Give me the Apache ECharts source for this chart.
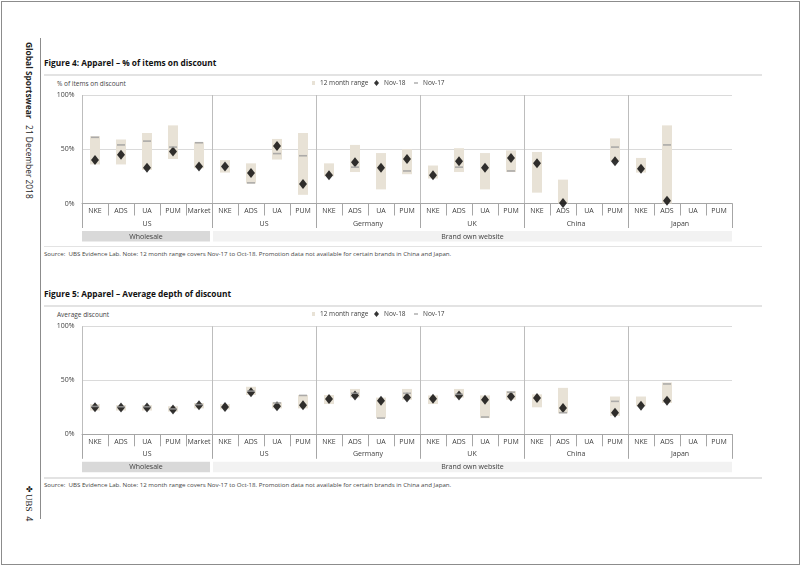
<!DOCTYPE html>
<html><head><meta charset="utf-8">
<script src="https://cdn.jsdelivr.net/npm/echarts@6/dist/echarts.min.js"></script>
<style>
html,body{margin:0;padding:0;background:#fff;}
body{width:802px;height:567px;overflow:hidden;position:relative;font-family:'Open Sans',sans-serif;color:#333;}
.abs{position:absolute;white-space:nowrap;}
#border{left:1px;top:1px;width:799px;height:564px;border:1px solid #8c8c8c;box-sizing:border-box;}
#vline{left:39.5px;top:38px;width:1.5px;height:481px;background:#8c8c8c;}
#side{left:24px;top:42px;writing-mode:vertical-rl;font-size:8.4px;color:#222;line-height:10px;}
#ubs{left:24px;top:485px;writing-mode:vertical-rl;font-size:9px;color:#222;line-height:10px;}
.title{left:44px;font-size:8.3px;font-weight:700;color:#111;line-height:10px;}
.hr{left:44px;width:718px;height:2px;background:#e3e3e3;}
.yname{left:57px;font-size:6.5px;color:#444;line-height:8px;}
.src{left:44px;font-size:6.15px;color:#444;line-height:8px;}
#chart{position:absolute;left:0;top:0;width:802px;height:567px;}
</style></head>
<body>
<div id="border" class="abs"></div>
<div id="vline" class="abs"></div>
<div id="side" class="abs"><b>Global Sportswear</b>&nbsp;&nbsp;&nbsp;21 December 2018</div>
<div id="ubs" class="abs"><span style="font-size:8px">✤</span><span style="font-family:'Liberation Serif',serif;">UBS</span>&nbsp;&nbsp;4</div>

<div class="abs title" style="top:58px">Figure 4: Apparel – % of items on discount</div>
<div class="abs hr" style="top:74px"></div>
<div class="abs yname" style="top:80.3px">% of items on discount</div>
<div class="abs hr" style="top:245.5px;height:1.5px"></div>
<div class="abs src" style="top:250px">Source:&nbsp; UBS Evidence Lab. Note: 12 month range covers Nov-17 to Oct-18. Promotion data not available for certain brands in China and Japan.</div>

<div class="abs title" style="top:289px">Figure 5: Apparel – Average depth of discount</div>
<div class="abs hr" style="top:305px"></div>
<div class="abs yname" style="top:310.5px">Average discount</div>
<div class="abs hr" style="top:477px;height:1.5px"></div>
<div class="abs src" style="top:480.5px">Source:&nbsp; UBS Evidence Lab. Note: 12 month range covers Nov-17 to Oct-18. Promotion data not available for certain brands in China and Japan.</div>

<div id="chart"></div>
<script>
// ---------- data ----------
const brands = ['NKE','ADS','UA','PUM','Market',
                'NKE','ADS','UA','PUM',
                'NKE','ADS','UA','PUM',
                'NKE','ADS','UA','PUM',
                'NKE','ADS','UA','PUM',
                'NKE','ADS','UA','PUM'];
const regions = ['US','US','Germany','UK','China','Japan'];
const regionSizes = [5,4,4,4,4,4];
const channels = ['Wholesale','Brand own website'];
const channelRegionCounts = [1,5];
const yTicks = [0,50,100];
const legendNames = ['12 month range','Nov-18','Nov-17'];

// Figure 4: % of items on discount
const fig4Low   = [36,36,31,41,32.5, 28.5,18.5,40.5,8, 25,29,13,27, 23,29,13,29, 10,0,null,39, 28.5,0,null,null];
const fig4High  = [62,59,65,72,56.5, 40,37,59.5,65, 37,54,46.5,50, 35,51,46.5,49, 47.5,22,null,60, 42,72,null,null];
const fig4Nov18 = [40,45,33,48,34, 34,28,53,18, 26,38,33,41, 26,39,33,42, 37,0.5,null,39, 32,2.5,null,null];
const fig4Nov17 = [61,54,57.5,52,56, null,19,46,44, null,33.5,null,30, null,33.5,null,30, null,null,null,52, null,54,null,null];

// Figure 5: average depth of discount
const fig5Low   = [22,22,22,21,24, 23,36.4,24,24, 28,34,15,32, 28,34,15,32, 25,19.4,null,17, 26,29,null,null];
const fig5High  = [28,27,27,26,29, 28,44,29.6,36.4, 36.4,42,34,42, 36,42,36,40, 37,43,null,35, 35,48,null,null];
const fig5Nov18 = [25,24.7,24.7,23,27, 25.3,39,26,27, 32.7,36,31,34, 33,36,32,35, 33.6,24.4,null,20, 26.5,31,null,null];
const fig5Nov17 = [25.8,25.5,25.5,23.5,27.5, null,40,29,36, null,38,15,38, null,37,16,39, null,20,null,30.5, null,46.6,null,null];

// ---------- build ----------
const figs = [
  {low:fig4Low, high:fig4High, n18:fig4Nov18, n17:fig4Nov17},
  {low:fig5Low, high:fig5High, n18:fig5Nov18, n17:fig5Nov17}
];
const grids = [
  {left:82, top:95, width:650, height:108.5},
  {left:82, top:326.3, width:650, height:108}
];
const legendTops = [79.5, 310.5];
const halfCount = brands.length*2+1;
const bounds=[0]; regionSizes.forEach(s=>bounds.push(bounds[bounds.length-1]+s*2));
const centers = regionSizes.map((s,i)=>bounds[i]+s);
const splitIdx = bounds.slice(0,-1);
const regionAxisData = Array.from({length:halfCount},(_,k)=>'h'+k);
const chBounds=[0]; {let r=0; channelRegionCounts.forEach(c=>{r+=c; chBounds.push(bounds[r]);});}

const RANGE='#e8e2d6', AX='#a6a6a6', TXT='#404040';
const xAxis=[], yAxis=[], series=[], legend=[];
figs.forEach((d,f)=>{
  xAxis.push({gridIndex:f, type:'category', data:brands.map((b,i)=>'c'+i),
    axisLine:{show:true,lineStyle:{color:AX,width:1}},
    axisTick:{show:true,interval:0,length:12,lineStyle:{color:AX}},
    axisLabel:{interval:0,fontSize:7,color:TXT,margin:4,formatter:(v,i)=>brands[i]},
    splitLine:{show:false}});
  xAxis.push({gridIndex:f, type:'category', boundaryGap:false, data:regionAxisData, position:'bottom',
    axisLine:{show:false},
    axisTick:{show:true,length:24.5,interval:(i)=>bounds.includes(i),lineStyle:{color:AX}},
    axisLabel:{interval:0,fontSize:7,color:TXT,margin:16.5,formatter:(v,i)=>{const c=centers.indexOf(i);return c>=0?regions[c]:'';}},
    splitLine:{show:true,interval:(i)=>splitIdx.includes(i),lineStyle:{color:'#bdbdbd',width:1}}});
  yAxis.push({gridIndex:f, type:'value', min:yTicks[0], max:yTicks[yTicks.length-1], interval:yTicks[1]-yTicks[0],
    axisLine:{show:false}, axisTick:{show:false},
    axisLabel:{fontSize:7,color:TXT,margin:7.5,formatter:'{value}%'},
    splitLine:{show:true,lineStyle:{color:'#dadada',width:1}}});
  const xi=2*f;
  series.push({name:'base'+f,type:'bar',xAxisIndex:xi,yAxisIndex:f,stack:'s'+f,barWidth:10,silent:true,
    itemStyle:{color:'rgba(0,0,0,0)'},data:d.low});
  series.push({name:legendNames[0],type:'bar',xAxisIndex:xi,yAxisIndex:f,stack:'s'+f,barWidth:10,
    itemStyle:{color:RANGE},data:d.high.map((h,i)=>h==null?null:+(h-d.low[i]).toFixed(2))});
  series.push({name:legendNames[1],type:'scatter',xAxisIndex:xi,yAxisIndex:f,symbol:'diamond',symbolSize:[8,10],z:5,
    itemStyle:{color:'#000'},data:d.n18.map((v,i)=>[i,v]).filter(p=>p[1]!=null)});
  series.push({name:legendNames[2],type:'scatter',xAxisIndex:xi,yAxisIndex:f,symbol:'rect',symbolSize:[8,1.6],z:6,
    itemStyle:{color:'#9c9c9c'},data:d.n17.map((v,i)=>[i,v]).filter(p=>p[1]!=null)});
  const lt=legendTops[f];
  legend.push({left:312,top:lt,padding:0,itemWidth:3,itemHeight:4,data:[{name:legendNames[0],icon:'rect'}],textStyle:{fontSize:6.5,color:TXT},selectedMode:false});
  legend.push({left:374,top:lt,padding:0,itemWidth:5,itemHeight:6,data:[{name:legendNames[1],icon:'diamond'}],textStyle:{fontSize:6.5,color:TXT},selectedMode:false});
  legend.push({left:414,top:lt,padding:0,itemWidth:4,itemHeight:1.5,data:[{name:legendNames[2],icon:'rect'}],textStyle:{fontSize:6.5,color:TXT},selectedMode:false});
});

const chart = echarts.init(document.getElementById('chart'));
chart.setOption({
  animation:false,
  textStyle:{fontFamily:"'Open Sans', sans-serif"},
  grid:grids, xAxis, yAxis, series, legend
});

// channel bands under the axes, positioned from the axis scales
const graphic=[];
figs.forEach((d,f)=>{
  const y0 = chart.convertToPixel({yAxisIndex:f}, 0);
  channels.forEach((name,c)=>{
    const xa = chart.convertToPixel({xAxisIndex:2*f+1}, 'h'+chBounds[c]);
    const xb = chart.convertToPixel({xAxisIndex:2*f+1}, 'h'+chBounds[c+1]);
    const l = xa + (c>0?1:0), r = xb - (c<channels.length-1?2:0);
    graphic.push({type:'rect',shape:{x:l,y:y0+27.5,width:r-l,height:10.5},style:{fill:c===0?'#d9d9d9':'#f2f2f2'},silent:true});
    graphic.push({type:'text',x:(l+r)/2,y:y0+27.5+5.5,style:{text:name,fontSize:7,fill:TXT,align:'center',verticalAlign:'middle',fontFamily:"'Open Sans', sans-serif"},silent:true});
  });
});
chart.setOption({graphic});
</script>
</body></html>
